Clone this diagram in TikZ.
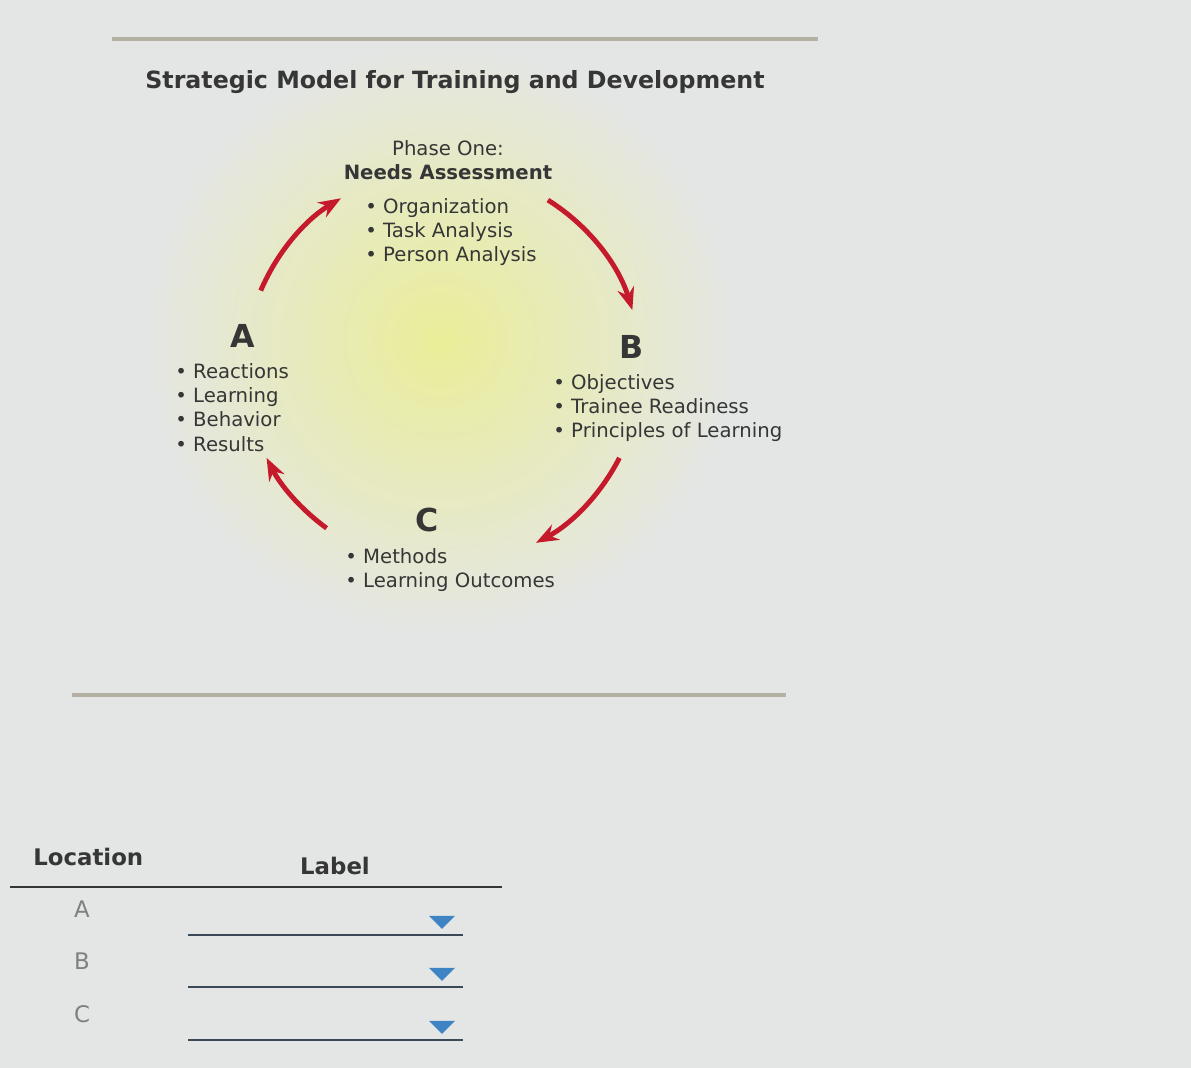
\documentclass[tikz,border=0pt]{standalone}
\usepackage{fontspec}
\setmainfont{DejaVu Sans}
\usetikzlibrary{arrows.meta}
\definecolor{bg}{HTML}{E4E6E6}
\definecolor{ink}{HTML}{363636}
\definecolor{glow}{HTML}{EAEE98}
\definecolor{cycred}{HTML}{C41A2C}
\definecolor{rulegray}{HTML}{B4B0A2}
\definecolor{dropblue}{HTML}{3E84C4}
\definecolor{dropline}{HTML}{3A4858}
\begin{document}
\begin{tikzpicture}[
        x=0.02cm, y=0.02cm,
        txt/.style={text=ink, inner sep=0pt, font=\fontsize{11.2}{13.8}\selectfont},
        blist/.style={txt, align=left, anchor=north west},
        letter/.style={text=ink, inner sep=0pt, font=\fontsize{18}{20}\selectfont\bfseries},
        head/.style={text=ink, inner sep=0pt, font=\fontsize{13}{15}\selectfont\bfseries},
        rowlet/.style={text=gray, inner sep=0pt, font=\fontsize{13}{15}\selectfont},
        cyc/.style={draw=cycred, line width=2.8pt, -{Stealth[length=0.45cm,width=0.34cm]}},
        rule/.style={draw=rulegray, line width=2.8pt},
        dropln/.style={draw=dropline, line width=1.5pt},
    ]
        % Background and glow
        \fill[bg] (0,0) rectangle (1191,1068);
        \useasboundingbox (0,0) rectangle (1191,1068);
        \shade[inner color=glow, outer color=bg] (440,728) circle (300);

        % Rules
        \draw[rule] (112,1029) -- (818,1029);
        \draw[rule] (72,373) -- (786,373);

        % Title
        \node[head, font=\fontsize{13.5}{15}\selectfont\bfseries] (title) at (455,986) {Strategic Model for Training and Development};

        % Phase one (top)
        \node[txt] (phase) at (448,920) {Phase One:};
        \node[txt, font=\fontsize{11.2}{13.8}\selectfont\bfseries] (needs) at (448,896) {Needs Assessment};
        \node[blist] (needsl) at (365,870) {\textbullet\ Organization\\\textbullet\ Task Analysis\\\textbullet\ Person Analysis};

        % Phase A, B, C
        \node[letter] (A) at (243,732) {A};
        \node[blist] (Al) at (175,705) {\textbullet\ Reactions\\\textbullet\ Learning\\\textbullet\ Behavior\\\textbullet\ Results};
        \node[letter] (B) at (632,721) {B};
        \node[blist] (Bl) at (553,694) {\textbullet\ Objectives\\\textbullet\ Trainee Readiness\\\textbullet\ Principles of Learning};
        \node[letter] (C) at (427,548) {C};
        \node[blist] (Cl) at (345,520) {\textbullet\ Methods\\\textbullet\ Learning Outcomes};

        % Cycle arrows (clockwise)
        \coordinate (ctr) at (443,700);
        \path (ctr) ++(157:198) coordinate (a1);
        \path (ctr) ++(58:198) coordinate (a2);
        \path (ctr) ++(-27:198) coordinate (a3);
        \path (ctr) ++(-126:198) coordinate (a4);
        \draw[cyc] (a1) arc[start angle=157, end angle=121, radius=198];
        \draw[cyc] (a2) arc[start angle=58, end angle=17, radius=198];
        \draw[cyc] (a3) arc[start angle=-27, end angle=-62, radius=198];
        \draw[cyc] (a4) arc[start angle=-126, end angle=-153, radius=198];

        % Table
        \node[head, anchor=west] (loc) at (33,211) {Location};
        \node[head] (lab) at (335,202) {Label};
        \draw[draw=ink, line width=1.2pt] (10,181) -- (502,181);
        \foreach \r/\y in {A/159, B/107, C/54} {
            \node[rowlet] (row\r) at (82,\y) {\r};
            \draw[dropln] (188,\y-26) -- (463,\y-26);
            \coordinate (tri\r) at (442,\y-13);
            \fill[dropblue] (tri\r) ++(-13,6) -- ++(26,0) -- ++(-13,-13) -- cycle;
        }
\end{tikzpicture}
\end{document}
